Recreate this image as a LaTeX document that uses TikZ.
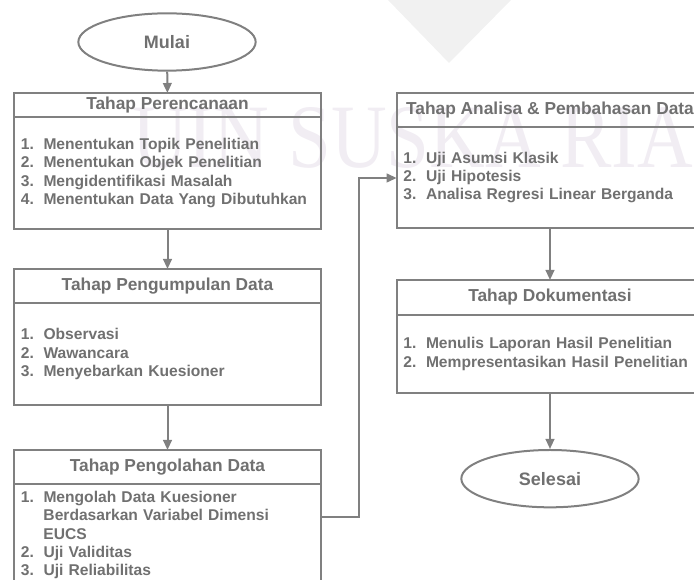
\documentclass[tikz,border=0pt]{standalone}
\usepackage{fontspec}
\setmainfont{Liberation Sans}
\newfontfamily\hurufwm{Liberation Serif}
\usetikzlibrary{arrows.meta,positioning,shapes.geometric}
\definecolor{abu}{HTML}{707070}
\definecolor{garis}{HTML}{808080}
\definecolor{wm}{HTML}{F1EDF3}
\definecolor{logo}{HTML}{F1F1F1}
\newcommand{\li}[2]{\makebox[17pt][l]{#1}#2}
\newcommand{\lanjut}[1]{\hspace*{17pt}#1}
\tikzset{
    panah/.style={
        -{Triangle[length=7.5pt,width=6.5pt]},
        line width=1.5pt,
        color=garis
    },
    terminal/.style={
        ellipse,
        draw=garis,
        line width=1.5pt,
        minimum width=133pt,
        minimum height=43pt,
        text=abu,
        font=\fontsize{13.5}{16}\selectfont\bfseries
    },
    judul/.style={
        draw=garis,
        line width=1.5pt,
        minimum width=230pt,
        inner sep=0pt,
        outer sep=0pt,
        text=abu,
        font=\fontsize{13}{15}\selectfont\bfseries
    },
    isi/.style={
        draw=garis,
        line width=1.5pt,
        text width=220pt,
        inner xsep=5pt,
        inner ysep=0pt,
        outer sep=0pt,
        align=left,
        text=abu,
        font=\fontsize{11.7}{13.8}\selectfont\bfseries
    }
}

\begin{document}
\begin{tikzpicture}[x=0.75pt,y=-0.75pt]

    \useasboundingbox (0,0) rectangle (694,580);
    \clip (0,0) rectangle (694,580);

    % Latar
    \fill[logo]
        (388,0) -- (511,0) -- (449,63) -- cycle;

    \node[
        anchor=base west,
        inner sep=0pt,
        text=wm,
        font=\hurufwm\fontsize{68}{68}\selectfont
    ] (tanda)
        at (132,168)
        {\scalebox{0.85}[1]{UIN SUSKA RIAU}};

    % Mulai
    \node[terminal] (mulai) at (167,42) {Mulai};

    % Tahap Perencanaan
    \node[judul,minimum height=18pt] (rencana) at (167.5,105)
        {\raisebox{-1.5pt}{Tahap Perencanaan}};
    \node[isi,minimum height=84pt,below=0pt of rencana] (rencanaisi)
        {\li{1.}{Menentukan Topik Penelitian}\\
         \li{2.}{Menentukan Objek Penelitian}\\
         \li{3.}{Mengidentifikasi Masalah}\\
         \li{4.}{Menentukan Data Yang Dibutuhkan}};

    % Tahap Pengumpulan Data
    \node[judul,minimum height=25.5pt,below=30pt of rencanaisi] (kumpul)
        {Tahap Pengumpulan Data};
    \node[isi,minimum height=76.5pt,below=0pt of kumpul] (kumpulisi)
        {\li{1.}{Observasi}\\
         \li{2.}{Wawancara}\\
         \li{3.}{Menyebarkan Kuesioner}};

    % Tahap Pengolahan Data
    \node[judul,minimum height=25.5pt,below=33.75pt of kumpulisi] (olah)
        {Tahap Pengolahan Data};
    \node[isi,minimum height=76.5pt,below=0pt of olah] (olahisi)
        {\li{1.}{Mengolah Data Kuesioner}\\
         \lanjut{Berdasarkan Variabel Dimensi}\\
         \lanjut{EUCS}\\
         \li{2.}{Uji Validitas}\\
         \li{3.}{Uji Reliabilitas}};

    % Tahap Analisa & Pembahasan Data
    \node[judul,minimum height=25.5pt] (analisa) at (550,110)
        {Tahap Analisa \& Pembahasan Data};
    \node[isi,minimum height=75.75pt,below=0pt of analisa] (analisaisi)
        {\li{1.}{Uji Asumsi Klasik}\\
         \li{2.}{Uji Hipotesis}\\
         \li{3.}{Analisa Regresi Linear Berganda}};

    % Tahap Dokumentasi
    \node[judul,minimum height=26.25pt,below=39pt of analisaisi] (dokumen)
        {Tahap Dokumentasi};
    \node[isi,minimum height=58.5pt,below=0pt of dokumen] (dokumenisi)
        {\li{1.}{Menulis Laporan Hasil Penelitian}\\
         \li{2.}{Mempresentasikan Hasil Penelitian}};

    % Selesai
    \node[terminal,below=42pt of dokumenisi] (selesai) {Selesai};

    % Panah
    \draw[panah] (mulai) -- (rencana);
    \draw[panah] (rencanaisi) -- (kumpul);
    \draw[panah] (kumpulisi) -- (olah);
    \draw[panah] (analisaisi) -- (dokumen);
    \draw[panah] (dokumenisi) -- (selesai);

    \coordinate (belok) at (359,517);
    \coordinate (masuk) at (359,178);
    \draw[panah]
        (olahisi.east |- belok)
        -- (belok)
        -- (masuk)
        -- (analisaisi.west |- masuk);

\end{tikzpicture}
\end{document}
